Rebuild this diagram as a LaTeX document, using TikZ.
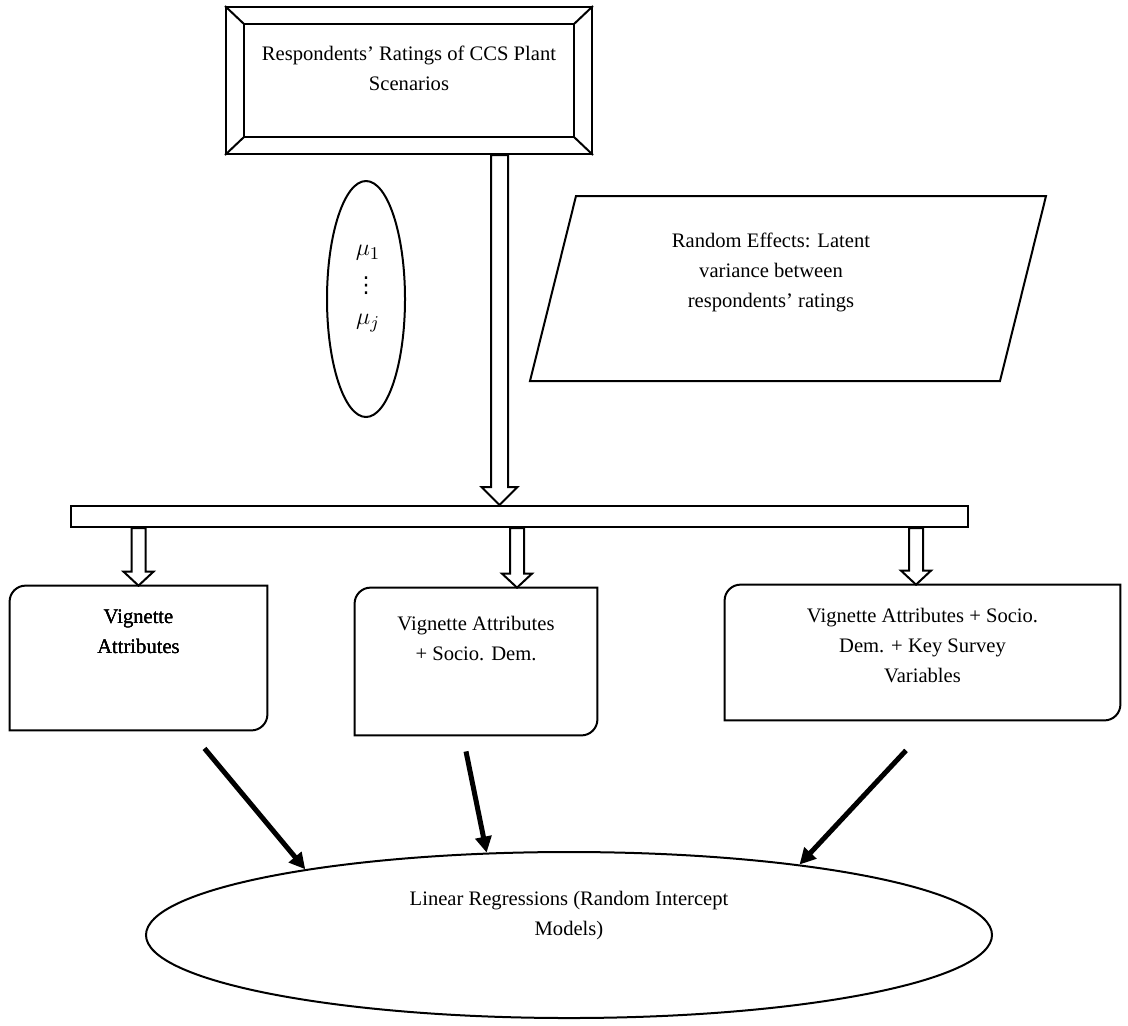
\documentclass[tikz,border=0pt]{standalone}
\usepackage{fontspec}
\setmainfont{Liberation Serif}
\newfontfamily\dotsfont{DejaVu Sans}
\usetikzlibrary{shapes.geometric,arrows.meta,calc}
\tikzset{
  outline/.style={draw,line width=1pt},
  txt/.style={align=center,inner sep=0pt,font=\fontsize{10.3}{15}\selectfont},
  mathtxt/.style={inner sep=0pt,font=\fontsize{13}{15}\selectfont},
  vbox/.style={inner sep=0pt},
  boldarrow/.style={line width=2.5pt,-{Triangle[length=8pt,width=8pt]}},
  hollow/.style={draw,line width=1pt,fill=white}
}
% hollow block arrow: top point, tip point, shaft half width, head half width, head length
\newcommand{\hollowarrow}[5]{%
  \draw[hollow] let \p1=(#1), \p2=(#2) in
    (\x2-#3,\y1) -- (\x2-#3,\y2+#5) -- (\x2-#4,\y2+#5) -- (\x2,\y2)
    -- (\x2+#4,\y2+#5) -- (\x2+#3,\y2+#5) -- (\x2+#3,\y1) -- cycle;}

\begin{document}
\begin{tikzpicture}[x=0.5pt,y=-0.5pt]
\useasboundingbox (0,0) rectangle (1128,1025);

% top box with bevel
\node[outline,minimum width=183pt,minimum height=73.5pt] (ratings) at (409,80.5) {};
\draw[line width=1pt] ([shift={(9.5pt,-9pt)}]ratings.north west) rectangle ([shift={(-9.5pt,9pt)}]ratings.south east);
\foreach \c/\dx/\dy in {north west/9.5/-9, north east/-9.5/-9, south west/9.5/9, south east/-9.5/9}
  \draw[line width=1pt] (ratings.\c) -- ([shift={(\dx pt,\dy pt)}]ratings.\c);
\node[txt] (ratingsText) at (409,68) {Respondents’ Ratings of CCS Plant\\Scenarios};

% mu ellipse
\node[ellipse,outline,minimum width=39pt,minimum height=118pt,inner sep=0pt] (mu) at (366,299) {};
\node[mathtxt] (muFirst) at (368,253) {$\mu_1$};
\node[inner sep=0pt,font=\fontsize{11}{12}\dotsfont] (muDots) at (366,286) {⋮};
\node[mathtxt] (muLast) at (368,323) {$\mu_j$};

% random effects
\draw[line width=1pt] (576,196) -- (1046,196) -- (1000,381) -- (530,381) -- cycle;
\node[txt] (effectsText) at (771,272) {Random Effects: Latent\\variance between\\respondents’ ratings};

% bar
\node[outline,minimum width=448.5pt,minimum height=10.5pt,inner sep=0pt] (bar) at (519.5,516.5) {};
\hollowarrow{ratings.south}{[xshift=-10pt]bar.north}{4.25pt}{9pt}{9pt}

% model boxes
\node[vbox,minimum width=128.5pt,minimum height=72pt] (attr) at (138.5,658) {};
\node[vbox,minimum width=121pt,minimum height=73.5pt] (socio) at (476,661.5) {};
\node[vbox,minimum width=197.5pt,minimum height=67.5pt] (survey) at (922.5,652.5) {};
\foreach \b in {attr,socio,survey}
  \draw[line width=1pt] (\b.north east) -- ([xshift=8pt]\b.north west)
    arc[start angle=90,end angle=180,radius=8pt] -- (\b.south west)
    -- ([xshift=-8pt]\b.south east) arc[start angle=270,end angle=360,radius=8pt] -- cycle;
\foreach \b/\s in {attr/0pt,socio/20.5pt,survey/-3.25pt}
  \hollowarrow{bar.south}{[xshift=\s]\b.north}{3.5pt}{7.5pt}{7pt}
\node[txt] (attrText) at (138.5,632) {Vignette\\Attributes};
\node[txt] (socioText) at (476,638) {Vignette Attributes\\+ Socio. Dem.};
\node[txt] (surveyText) at (922.5,645) {Vignette Attributes + Socio.\\Dem. + Key Survey\\Variables};

% regressions
\node[ellipse,outline,minimum width=423pt,minimum height=83pt,inner sep=0pt] (regress) at (569,935) {};
\node[txt] (regressText) at (569,916) {Linear Regressions (Random Intercept\\Models)};

\draw[boldarrow] ([shift={(33pt,-9pt)}]attr.south) -- (regress.166);
\draw[boldarrow] ([shift={(-5pt,-8pt)}]socio.south) -- (regress.135);
\draw[boldarrow] ([shift={(-8.25pt,-15pt)}]survey.south) -- (regress.17);
\end{tikzpicture}
\end{document}
